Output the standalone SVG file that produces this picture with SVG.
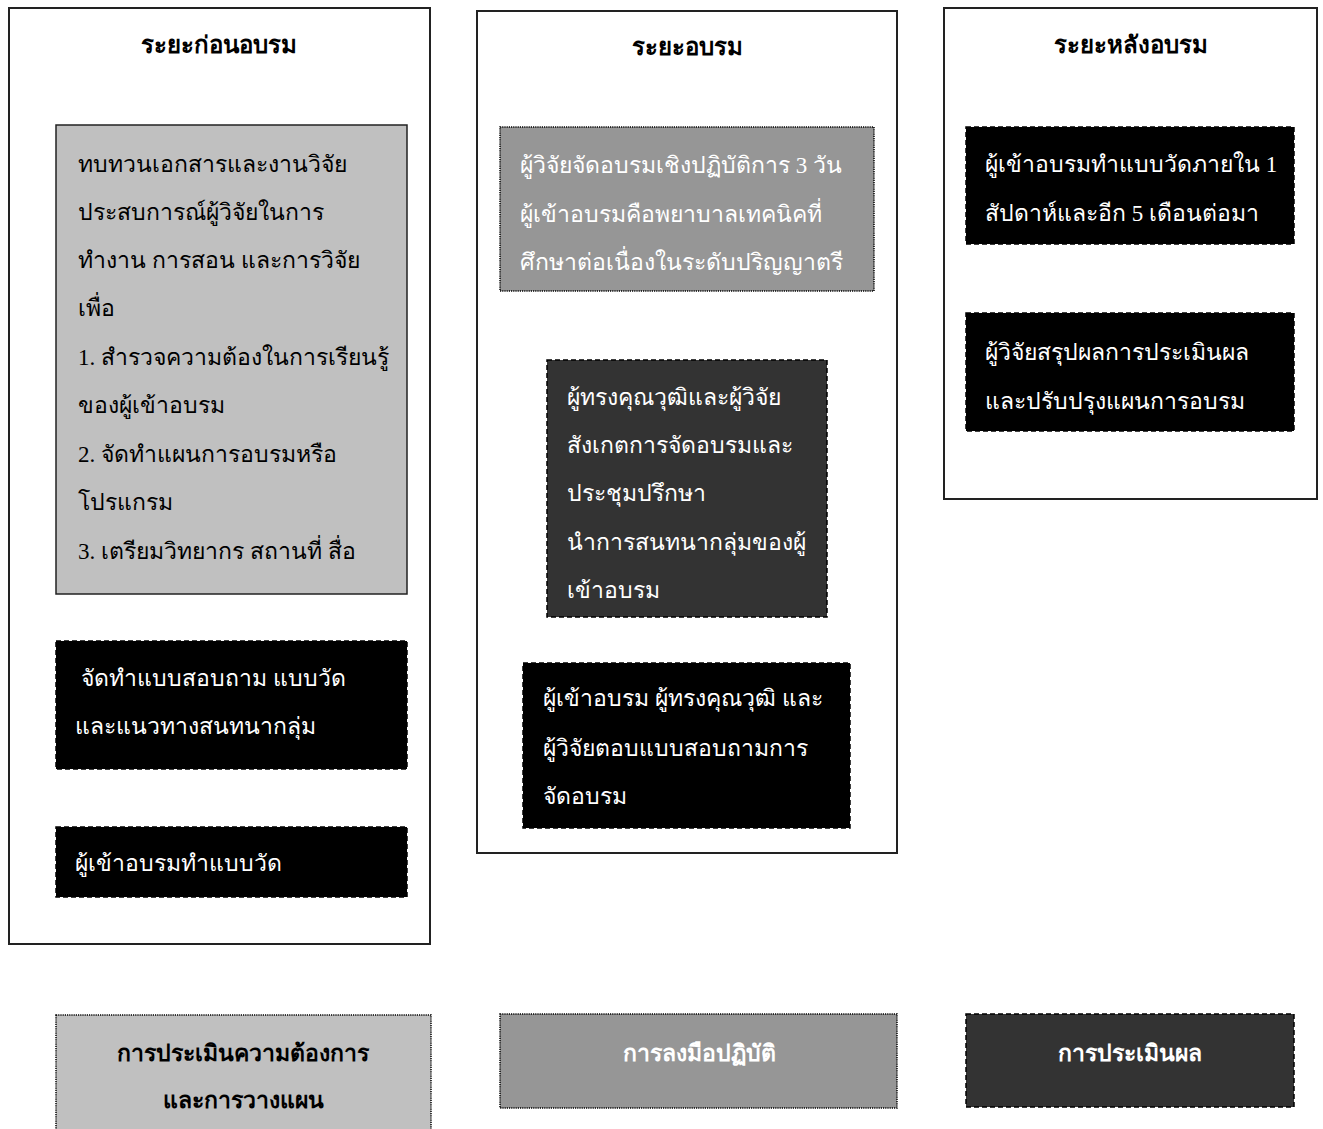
<svg xmlns="http://www.w3.org/2000/svg" width="1323" height="1129" viewBox="0 0 1323 1129">
<style>
text{font-family:"Liberation Serif","Noto Sans",serif;font-size:23px}
.t{font-weight:bold;fill:#000;text-anchor:middle;font-size:24px}
.b{font-size:23px}
.w{fill:#fff}
.k{fill:#000}
.frame{fill:#fff;stroke:#222;stroke-width:2}
.solid{stroke:#222;stroke-width:1.5}
.dash{stroke:#000;stroke-width:1.5;stroke-dasharray:5 3}
.dot{stroke:#000;stroke-width:1.5;stroke-dasharray:1.2 1}
.lg{fill:#c0c0c0}.mg{fill:#969696}.dg{fill:#333}.bk{fill:#000}
</style>
<rect width="1323" height="1129" fill="#fff"/>
<g id="phase-pre">
<rect class="frame" x="9" y="8" width="421" height="936"/>
<text class="t" x="219" y="53">ระยะก่อนอบรม</text>
</g>
<g id="phase-during">
<rect class="frame" x="477" y="11" width="420" height="842"/>
<text class="t" x="687" y="55">ระยะอบรม</text>
</g>
<g id="phase-post">
<rect class="frame" x="944" y="8" width="373" height="491"/>
<text class="t" x="1131" y="53">ระยะหลังอบรม</text>
</g>
<g id="n-review">
<rect class="lg solid" x="56" y="125" width="351" height="469"/>
<text class="k" x="78" y="172">ทบทวนเอกสารและงานวิจัย</text>
<text class="k" x="78" y="220">ประสบการณ์ผู้วิจัยในการ</text>
<text class="k" x="78" y="268">ทำงาน การสอน และการวิจัย</text>
<text class="k" x="78" y="316">เพื่อ</text>
<text class="k" x="78" y="365">1. สำรวจความต้องในการเรียนรู้</text>
<text class="k" x="78" y="413">ของผู้เข้าอบรม</text>
<text class="k" x="78" y="462">2. จัดทำแผนการอบรมหรือ</text>
<text class="k" x="78" y="510">โปรแกรม</text>
<text class="k" x="78" y="559">3. เตรียมวิทยากร สถานที่ สื่อ</text>
</g>
<g id="n-prepare">
<rect class="bk dash" x="56" y="641" width="351" height="128"/>
<text class="w" x="81" y="686">จัดทำแบบสอบถาม แบบวัด</text>
<text class="w" x="75" y="734">และแนวทางสนทนากลุ่ม</text>
</g>
<g id="n-pretest">
<rect class="bk dash" x="56" y="827" width="351" height="70"/>
<text class="w" x="75" y="871">ผู้เข้าอบรมทำแบบวัด</text>
</g>
<g id="n-workshop">
<rect class="mg dot" x="500" y="127" width="374" height="164"/>
<text class="w" x="520" y="173">ผู้วิจัยจัดอบรมเชิงปฏิบัติการ 3 วัน</text>
<text class="w" x="520" y="222">ผู้เข้าอบรมคือพยาบาลเทคนิคที่</text>
<text class="w" x="520" y="270">ศึกษาต่อเนื่องในระดับปริญญาตรี</text>
</g>
<g id="n-observe">
<rect class="dg dash" x="547" y="360" width="280" height="257"/>
<text class="w" x="567" y="405">ผู้ทรงคุณวุฒิและผู้วิจัย</text>
<text class="w" x="567" y="453">สังเกตการจัดอบรมและ</text>
<text class="w" x="567" y="501">ประชุมปรึกษา</text>
<text class="w" x="567" y="550">นำการสนทนากลุ่มของผู้</text>
<text class="w" x="567" y="598">เข้าอบรม</text>
</g>
<g id="n-survey">
<rect class="bk dash" x="523" y="663" width="327" height="165"/>
<text class="w" x="543" y="706">ผู้เข้าอบรม ผู้ทรงคุณวุฒิ และ</text>
<text class="w" x="543" y="756">ผู้วิจัยตอบแบบสอบถามการ</text>
<text class="w" x="543" y="804">จัดอบรม</text>
</g>
<g id="n-posttest">
<rect class="bk dash" x="966" y="127" width="328" height="117"/>
<text class="w" x="985" y="172">ผู้เข้าอบรมทำแบบวัดภายใน 1</text>
<text class="w" x="985" y="221">สัปดาห์และอีก 5 เดือนต่อมา</text>
</g>
<g id="n-summary">
<rect class="bk dash" x="966" y="313" width="328" height="118"/>
<text class="w" x="985" y="360">ผู้วิจัยสรุปผลการประเมินผล</text>
<text class="w" x="985" y="409">และปรับปรุงแผนการอบรม</text>
</g>
<g id="legend-needs">
<rect class="lg dot" x="56" y="1015" width="375" height="125"/>
<text class="t b" x="243" y="1061">การประเมินความต้องการ</text>
<text class="t b" x="243" y="1108">และการวางแผน</text>
</g>
<g id="legend-practice">
<rect class="mg dot" x="500" y="1014" width="397" height="94"/>
<text class="t b" x="699" y="1061" style="fill:#fff">การลงมือปฏิบัติ</text>
</g>
<g id="legend-eval">
<rect class="dg dash" x="966" y="1014" width="328" height="93"/>
<text class="t b" x="1130" y="1061" style="fill:#fff">การประเมินผล</text>
</g>
<g id="connectors"></g>
</svg>
